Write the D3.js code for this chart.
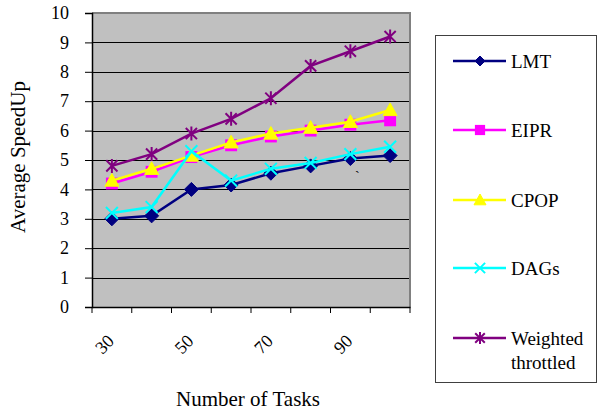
<!DOCTYPE html>
<html><head><meta charset="utf-8">
<script src="https://cdn.jsdelivr.net/npm/d3@7/dist/d3.min.js"></script>
<style>body{margin:0;background:#fff;}svg{display:block;}text{font-family:"Liberation Serif","Times New Roman",serif;fill:#000;}</style>
</head><body><svg id="c" width="601" height="410"></svg>
<script>
const categories = [30, 40, 50, 60, 70, 80, 90, 100];
const tickLabels = ["30", "", "50", "", "70", "", "90", ""];
const yTicks = [0,1,2,3,4,5,6,7,8,9,10];
const seriesNames = ["LMT", "EIPR", "CPOP", "DAGs", "Weighted throttled"];
const lmt = [3.0, 3.1, 4.0, 4.15, 4.55, 4.8, 5.05, 5.15];
const eipr = [4.2, 4.6, 5.1, 5.5, 5.8, 6.0, 6.2, 6.35];
const cpop = [4.3, 4.7, 5.15, 5.6, 5.9, 6.1, 6.3, 6.7];
const dags = [3.2, 3.4, 5.3, 4.3, 4.7, 4.9, 5.2, 5.45];
const weighted = [4.8, 5.2, 5.9, 6.4, 7.1, 8.2, 8.7, 9.2];
const colors = ["#000080", "#ff00ff", "#ffff00", "#00ffff", "#800080"];
const markers = ["diamond", "square", "triangle", "x", "star"];
const seriesValues = [lmt, eipr, cpop, dags, weighted];

const svg = d3.select("#c");
const L = 92, R = 410, T = 13, B = 307;
const x = d3.scaleBand().domain(categories).range([L, R]).padding(0);
const y = d3.scaleLinear().domain([0, 10]).range([B, T]);

svg.append("rect").attr("x", L).attr("y", T).attr("width", R - L).attr("height", B - T).attr("fill", "#c0c0c0");
// gridlines
svg.append("g").selectAll("line").data(yTicks.slice(1)).join("line")
  .attr("x1", L).attr("x2", R).attr("y1", d => Math.round(y(d)) + 0.5).attr("y2", d => Math.round(y(d)) + 0.5)
  .attr("stroke", "#000").attr("stroke-width", 1);
// border top/right
svg.append("path").attr("d", `M${L},${T} H${R} V${B}`).attr("fill", "none").attr("stroke", "#808080").attr("stroke-width", 2);

// y axis
const yAxis = d3.axisLeft(y).tickValues(yTicks).tickSize(7).tickPadding(16).tickFormat(d3.format("d"));
const gy = svg.append("g").attr("transform", `translate(${L},0)`).call(yAxis);
gy.select(".domain").attr("stroke", "#000").attr("stroke-width", 1.5);
gy.selectAll(".tick line").attr("stroke", "#000");
gy.selectAll(".tick text").style("font-size", "18px").style("font-family", "Liberation Serif").attr("fill", "#000");

// x axis
const xAxis = d3.axisBottom(x).tickSize(0).tickFormat("");
const gx = svg.append("g").attr("transform", `translate(0,${B})`).call(xAxis);
gx.select(".domain").attr("stroke", "#000").attr("stroke-width", 1.5);
gx.selectAll(".tick").remove();
const edges = categories.map(c => x(c)).concat([R]);
svg.append("g").selectAll("line").data(edges).join("line")
  .attr("x1", d => d).attr("x2", d => d).attr("y1", B).attr("y2", B + 6).attr("stroke", "#000");
svg.append("g").selectAll("text").data(categories.map((c, i) => ({c, t: tickLabels[i]})).filter(d => d.t))
  .join("text")
  .attr("transform", d => `translate(${x(d.c) + x.bandwidth() / 2 - 1},${338}) rotate(-45)`)
  .attr("text-anchor", "end").attr("dominant-baseline", "central").style("font-size", "18px").text(d => d.t);

// titles
svg.append("text").attr("transform", "translate(25,157) rotate(-90)").attr("text-anchor", "middle")
  .style("font-size", "21px").text("Average SpeedUp");
svg.append("text").attr("x", 248).attr("y", 406).attr("text-anchor", "middle").style("font-size", "21px").text("Number of Tasks");

// marker drawing
function drawMarker(g, type, color, s) {
  if (type === "diamond") {
    g.append("path").attr("d", `M0,${-s}L${s},0L0,${s}L${-s},0Z`).attr("fill", color).attr("stroke", color);
  } else if (type === "square") {
    const h = s * 0.85;
    g.append("rect").attr("x", -h).attr("y", -h).attr("width", 2 * h).attr("height", 2 * h).attr("fill", color);
  } else if (type === "triangle") {
    g.append("path").attr("d", `M0,${-s}L${s},${s * 0.8}L${-s},${s * 0.8}Z`).attr("fill", color).attr("stroke", color);
  } else if (type === "x") {
    const h = s * 0.85;
    g.append("path").attr("d", `M${-h},${-h}L${h},${h}M${-h},${h}L${h},${-h}`).attr("stroke", color).attr("stroke-width", 2);
  } else if (type === "star") {
    const h = s * 0.8;
    g.append("path").attr("d", `M${-h},${-h}L${h},${h}M${-h},${h}L${h},${-h}M0,${-s}L0,${s}`).attr("stroke", color).attr("stroke-width", 2);
  }
}

const line = d3.line().x((d, i) => x(categories[i]) + x.bandwidth() / 2).y(d => y(d));
seriesValues.forEach((vals, si) => {
  const g = svg.append("g");
  g.append("path").datum(vals).attr("d", line).attr("fill", "none").attr("stroke", colors[si]).attr("stroke-width", 2.5);
  vals.forEach((v, i) => {
    const mg = g.append("g").attr("transform", `translate(${x(categories[i]) + x.bandwidth() / 2},${y(v)})`);
    drawMarker(mg, markers[si], colors[si], 7);
  });
});
// stray mark
svg.append("text").attr("x", 355).attr("y", 181).style("font-size", "14px").text("`");

// legend
svg.append("rect").attr("x", 435.5).attr("y", 35.5).attr("width", 161).attr("height", 347).attr("fill", "#fff").attr("stroke", "#404040").attr("stroke-width", 1);
const legY = [61, 130, 200, 268, 338];
seriesNames.forEach((n, i) => {
  const g = svg.append("g");
  g.append("line").attr("x1", 453).attr("x2", 506).attr("y1", legY[i]).attr("y2", legY[i]).attr("stroke", colors[i]).attr("stroke-width", 2.5);
  const mg = g.append("g").attr("transform", `translate(480,${legY[i]})`);
  drawMarker(mg, markers[i], colors[i], markers[i] === "diamond" ? 5 : 6);
  const words = n === "Weighted throttled" ? ["Weighted", "throttled"] : [n];
  words.forEach((w, k) => {
    g.append("text").attr("x", 511).attr("y", legY[i] + k * 24).attr("dominant-baseline", "central").style("font-size", "19px").text(w);
  });
});
</script></body></html>
